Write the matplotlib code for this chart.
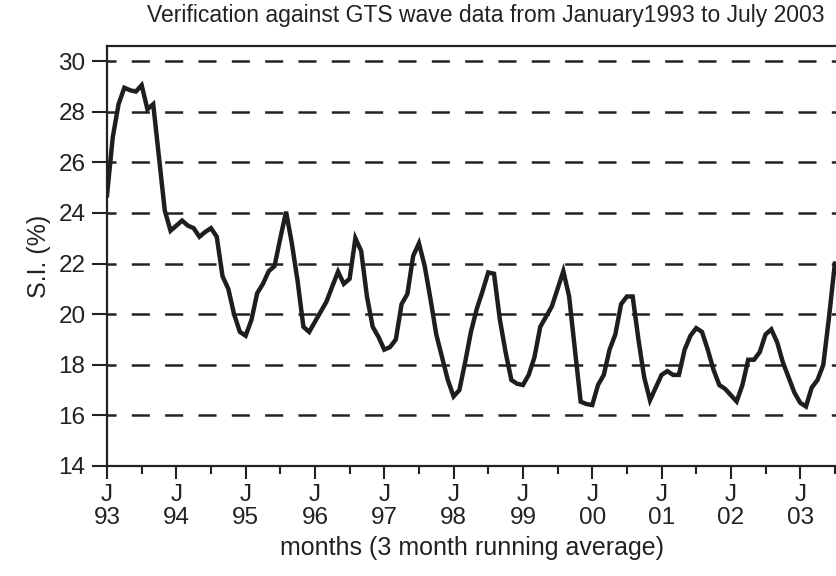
import matplotlib.pyplot as plt

plt.rcParams['font.family'] = ['Liberation Sans', 'DejaVu Sans']
plt.rcParams['lines.scale_dashes'] = False

# Severity index, 3 month running average, monthly from Jan 1993
si_values = [
    24.7, 27.0, 28.3, 28.95, 28.85, 28.8, 29.05, 28.1, 28.3, 26.2,
    24.1, 23.3, 23.5, 23.7, 23.5, 23.4, 23.06, 23.25, 23.4, 23.06,
    21.5, 21.0, 20.0, 19.3, 19.15, 19.77, 20.83, 21.2, 21.7, 21.9,
    23.0, 24.05, 22.8, 21.3, 19.5, 19.3, 19.7, 20.1, 20.5, 21.1,
    21.68, 21.2, 21.4, 23.0, 22.5, 20.7, 19.5, 19.1, 18.6, 18.7,
    19.0, 20.4, 20.8, 22.3, 22.8, 21.9, 20.6, 19.2, 18.3, 17.4,
    16.75, 17.0, 18.1, 19.3, 20.2, 20.9, 21.65, 21.6, 19.8, 18.5,
    17.4, 17.25, 17.2, 17.6, 18.3, 19.5, 19.9, 20.3, 21.0, 21.7,
    20.7, 18.6, 16.54, 16.45, 16.41, 17.2, 17.6, 18.6, 19.2, 20.4,
    20.7, 20.7, 19.0, 17.5, 16.6, 17.1, 17.6, 17.75, 17.6, 17.6,
    18.6, 19.15, 19.45, 19.3, 18.6, 17.8, 17.2, 17.05, 16.8, 16.55,
    17.2, 18.2, 18.2, 18.5, 19.2, 19.4, 18.9, 18.1, 17.5, 16.9,
    16.5, 16.35, 17.1, 17.4, 18.0, 19.9, 22.0,
]
months = list(range(len(si_values)))

year_labels = ['93', '94', '95', '96', '97', '98', '99', '00', '01', '02', '03']
year_ticks = [12 * i for i in range(len(year_labels))]
half_year_ticks = [12 * i + 6 for i in range(len(year_labels))]
grid_levels = [16, 18, 20, 22, 24, 26, 28, 30]

ink = '#222222'

fig = plt.figure(figsize=(8.36, 5.76), dpi=100)
ax = fig.add_axes([107 / 836, 110 / 576, 729 / 836, 420 / 576])

for level in grid_levels:
    ax.axhline(level, color=ink, lw=1.8, dashes=(6.5, 11, 6.5, 0), zorder=1)

ax.plot(months, si_values, color='#1e1e1e', lw=3.2, solid_joinstyle='miter', zorder=3)

ax.set_xlim(0, 126.2)
ax.set_ylim(14, 30.6)
ax.set_yticks(range(14, 31, 2))
ax.set_xticks(year_ticks)
ax.set_xticklabels(['J\n' + y for y in year_labels], linespacing=1.05)
ax.set_xticks(half_year_ticks, minor=True)

ax.spines['right'].set_visible(False)
for s in ['left', 'top', 'bottom']:
    ax.spines[s].set_linewidth(1.6)
    ax.spines[s].set_color(ink)

ax.tick_params(axis='both', which='major', direction='out', width=1.5,
               color=ink, labelsize=17.5, labelcolor=ink)
ax.tick_params(axis='y', which='major', length=10.5, pad=5)
ax.tick_params(axis='x', which='major', length=9, pad=4)
ax.tick_params(axis='x', which='minor', direction='out', length=5.5, width=1.5, color=ink)

ax.set_ylabel('S.I. (%)', fontsize=18, color=ink, labelpad=5)
ax.set_xlabel('months (3 month running average)', fontsize=18, color=ink, labelpad=5)
ax.set_title('Verification against GTS wave data from January1993 to July 2003',
             fontsize=16.5, color=ink, pad=17, x=0.52)

fig.savefig('out.png', dpi=100)
